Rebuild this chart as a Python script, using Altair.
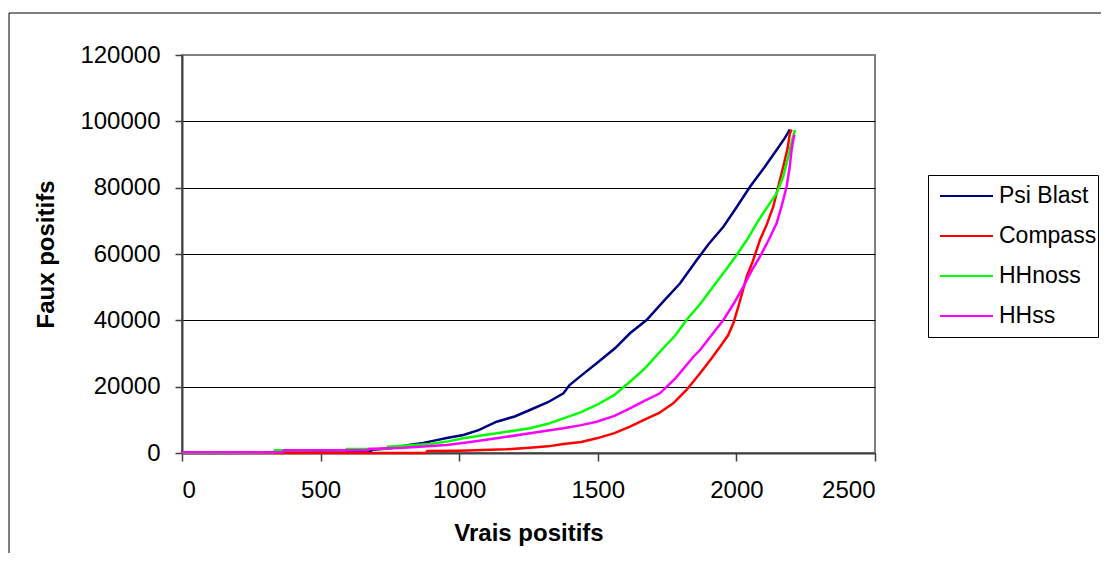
import altair as alt
import pandas as pd

# ---------------- data ----------------
series_names = ["Psi Blast", "Compass", "HHnoss", "HHss"]
series_colors = ["#000080", "#FF0000", "#00FF00", "#FF00FF"]

psi_vp = [0, 500, 675, 690, 760, 818, 870, 914, 960, 1015, 1070, 1135, 1200, 1255, 1320,
          1376, 1398, 1450, 1496, 1562, 1616, 1676, 1740, 1797, 1857, 1900, 1953, 2000,
          2049, 2100, 2145, 2175, 2193]
psi_fp = [0, 200, 400, 1000, 1500, 2400, 3000, 3800, 4600, 5430, 6900, 9440, 11000, 12960,
          15300, 18000, 20500, 24000, 27040, 31560, 36090, 40100, 46000, 51160, 58190, 63000,
          68230, 74000, 80290, 86000, 91350, 95000, 97600]

compass_vp = [0, 370, 880, 885, 1000, 1171, 1255, 1320, 1376, 1440, 1496, 1560, 1616, 1680,
              1720, 1772, 1820, 1869, 1910, 1941, 1970, 1989, 2010, 2037, 2060, 2085, 2110,
              2133, 2150, 2169, 2185, 2193, 2199]
compass_fp = [0, 0, 0, 600, 700, 1100, 1600, 2000, 2710, 3300, 4420, 6000, 7940, 10500,
              12000, 14970, 19000, 24020, 28500, 32050, 35500, 39100, 45000, 53150, 58000,
              64210, 69000, 74250, 80000, 86310, 92000, 96370, 97500]

hhnoss_vp = [0, 330, 335, 589, 594, 738, 742, 895, 960, 1015, 1135, 1255, 1320, 1376, 1440,
             1496, 1560, 1616, 1670, 1730, 1780, 1820, 1870, 1916, 1960, 2001, 2040, 2073,
             2110, 2145, 2169, 2187, 2200, 2211]
hhnoss_fp = [0, 200, 800, 800, 1200, 1200, 1900, 2710, 3500, 4420, 5930, 7440, 8800, 10450,
             12300, 14470, 17500, 21500, 25500, 31050, 35500, 40100, 45000, 50140, 55000,
             59690, 64500, 69250, 74000, 78290, 83320, 89350, 94000, 97380]

hhss_vp = [0, 5, 365, 367, 670, 673, 800, 955, 1040, 1135, 1255, 1376, 1440, 1496, 1560,
           1616, 1670, 1724, 1780, 1845, 1869, 1910, 1953, 1990, 2025, 2055, 2085, 2115,
           2145, 2165, 2181, 2192, 2199, 2209]
hhss_fp = [0, 200, 200, 800, 800, 1200, 1600, 2410, 3300, 4420, 5930, 7440, 8400, 9440,
           11200, 13470, 15800, 18000, 22500, 29030, 31050, 35500, 40100, 45000, 50140,
           55000, 59180, 64000, 69250, 75000, 80290, 86000, 91350, 96000]

x_ticks = [0, 500, 1000, 1500, 2000, 2500]
y_ticks = [0, 20000, 40000, 60000, 80000, 100000, 120000]

# ---------------- table ----------------
rows = []
for name, xs, ys in zip(series_names,
                        [psi_vp, compass_vp, hhnoss_vp, hhss_vp],
                        [psi_fp, compass_fp, hhnoss_fp, hhss_fp]):
    for i, (a, b) in enumerate(zip(xs, ys)):
        rows.append({"serie": name, "vp": a, "fp": b, "i": i})
df = pd.DataFrame(rows)

FONT = "Liberation Sans"
NBSP = "\u00a0" * 6

lines = alt.Chart(df).mark_line(strokeWidth=2.5).encode(
    x=alt.X("vp:Q",
            scale=alt.Scale(domain=[0, 2500], nice=False, zero=True),
            axis=alt.Axis(title="Vrais positifs", values=x_ticks, format="d", grid=False,
                          labelPadding=17, titlePadding=19, tickSize=8)),
    y=alt.Y("fp:Q",
            scale=alt.Scale(domain=[0, 120000], nice=False),
            axis=alt.Axis(title="Faux positifs", values=y_ticks, format="d", grid=True,
                          gridColor={"condition": {"test": "datum.value === 120000",
                                                   "value": "#808080"},
                                     "value": "#000000"},
                          labelPadding=15, titlePadding=21, tickSize=7)),
    color=alt.Color("serie:N",
                    scale=alt.Scale(domain=series_names, range=series_colors),
                    legend=alt.Legend(title=None, orient="none", legendX=746, legendY=120,
                                      strokeColor="#000000", fillColor="#ffffff",
                                      padding=1, symbolType="stroke", symbolSize=2809,
                                      symbolOffset=10, symbolStrokeWidth=2,
                                      labelFontSize=23, labelFont=FONT,
                                      labelExpr="datum.label + '" + NBSP + "'",
                                      labelColor="#000000", labelOffset=5, clipHeight=40,
                                      rowPadding=0, labelLimit=300)),
    order="i:Q",
)

border = alt.Chart(alt.Data(values=[{"k": 1}])).mark_rect(
    fill="transparent", stroke="#000000", strokeWidth=1
).encode(
    x=alt.value(-173), x2=alt.value(1500), y=alt.value(-42), y2=alt.value(1000)
)

chart = alt.layer(border, lines).properties(
    width=693, height=398,
    autosize=alt.AutoSizeParams(type="none"),
    padding={"left": 174, "top": 47, "right": 226, "bottom": 100},
    background="#ffffff",
).configure_view(
    stroke="#808080", strokeWidth=2
).configure_axis(
    labelFont=FONT, labelFontSize=24, labelColor="#000000",
    titleFont=FONT, titleFontSize=24, titleFontWeight="bold", titleColor="#000000",
    domainColor="#404040", domainWidth=2, tickColor="#404040", tickWidth=1.5,
    gridWidth=1,
)

chart.save("out.html", embed_options={"renderer": "svg", "actions": False})
